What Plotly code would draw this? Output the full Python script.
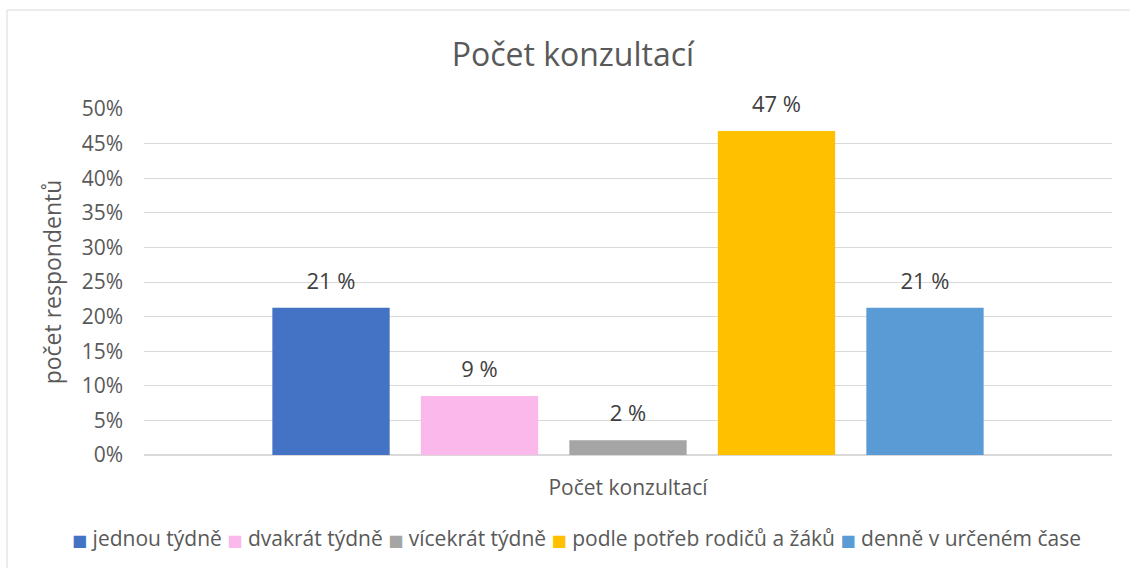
"""Bar chart: Počet konzultací."""

import plotly.graph_objects as go

category = ["Počet konzultací"]
series_names = [
    "jednou týdně",
    "dvakrát týdně",
    "vícekrát týdně",
    "podle potřeb rodičů a žáků",
    "denně v určeném čase",
]
series_values = [0.2128, 0.0851, 0.0213, 0.4681, 0.2128]
series_colors = ["#4472C4", "#FBB8EA", "#A5A5A5", "#FFC000", "#5B9BD5"]
y_ticks = [0, 0.05, 0.10, 0.15, 0.20, 0.25, 0.30, 0.35, 0.40, 0.45, 0.50]

FONT = "'Open Sans', sans-serif"
GREY = "#595959"

fig = go.Figure()
for name, value, color in zip(series_names, series_values, series_colors):
    # label in a big span + small blank second line -> sits a bit higher above the bar
    label = f"<span style='font-size:22px'>{round(value * 100)} %</span><br>\u00a0"
    fig.add_trace(
        go.Bar(
            x=category,
            y=[value],
            name=name,
            marker_color=color,
            marker_line_width=0,
            text=[label],
            textposition="outside",
            textfont=dict(size=10, color="#404040", family=FONT),
            cliponaxis=False,
            hovertemplate=name + ": %{y:.1%}<extra></extra>",
        )
    )

# legend drawn as one line of text, Excel-like tight spacing
legend_text = "\u00a0".join(
    f"<span style='font-family:DejaVu Sans;font-size:16px;color:{c}'>■</span>\u00a0{n}"
    for n, c in zip(series_names, series_colors)
)

fig.update_layout(
    width=1130,
    height=568,
    margin=dict(l=144, r=18, t=109, b=113),
    paper_bgcolor="white",
    plot_bgcolor="white",
    barmode="group",
    bargap=0.233,
    bargroupgap=0.21,
    font=dict(family=FONT, color=GREY, size=21),
    title=dict(
        text="Počet konzultací",
        x=0.507,
        xanchor="center",
        y=0.903,
        yanchor="middle",
        font=dict(size=32, color=GREY, family=FONT),
    ),
    showlegend=False,
    annotations=[
        dict(
            text=legend_text,
            xref="paper",
            yref="paper",
            x=0.447,
            y=-0.24,
            xanchor="center",
            yanchor="middle",
            showarrow=False,
            font=dict(size=21, color=GREY, family=FONT),
        )
    ],
)

fig.update_xaxes(
    showgrid=False,
    showline=False,
    ticks="",
    automargin=False,
    tickfont=dict(size=21, color=GREY),
    ticklabelstandoff=18,
)
fig.update_yaxes(
    range=[0, 0.5],
    tickvals=y_ticks,
    tickformat=".0%",
    showgrid=True,
    gridcolor="#D9D9D9",
    gridwidth=1,
    zeroline=True,
    zerolinecolor="#D9D9D9",
    showline=False,
    ticks="",
    automargin=False,
    ticklabelstandoff=20,
    tickfont=dict(size=21, color=GREY),
    title=dict(text="počet respondentů", font=dict(size=23, color=GREY), standoff=13),
)

# chart frame (left and top edges visible)
fig.add_shape(
    type="rect",
    xref="paper",
    yref="paper",
    x0=-0.1415,
    x1=1.05,
    y0=-0.4,
    y1=1.286,
    line=dict(color="#D9D9D9", width=1),
    layer="below",
)

fig.write_html(
    "out.html",
    config={"displayModeBar": False},
    post_script="document.body.style.margin='0';",
)
